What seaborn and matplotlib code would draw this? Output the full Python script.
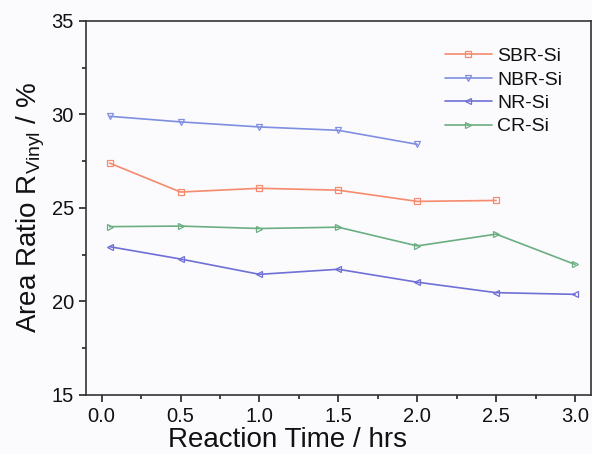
import pandas as pd
import matplotlib.pyplot as plt
import seaborn as sns
from matplotlib.ticker import MultipleLocator

# Dane
time_sbr = [0.05, 0.5, 1.0, 1.5, 2.0, 2.5]
sbr = [27.4, 25.85, 26.05, 25.95, 25.35, 25.4]
time_nbr = [0.05, 0.5, 1.0, 1.5, 2.0]
nbr = [29.9, 29.6, 29.33, 29.15, 28.4]
time_nr = [0.05, 0.5, 1.0, 1.5, 2.0, 2.5, 3.0]
nr = [22.93, 22.27, 21.45, 21.72, 21.03, 20.47, 20.38]
time_cr = [0.05, 0.5, 1.0, 1.5, 2.0, 2.5, 3.0]
cr = [24.0, 24.03, 23.9, 23.97, 22.97, 23.6, 21.98]

series = [
    ('SBR-Si', time_sbr, sbr, '#f58a6e', 's'),
    ('NBR-Si', time_nbr, nbr, '#7f8ee0', 'v'),
    ('NR-Si', time_nr, nr, '#6f6fd6', '<'),
    ('CR-Si', time_cr, cr, '#6aae82', '>'),
]

sns.set_theme(style="ticks")
plt.rcParams['font.family'] = ['Liberation Sans', 'DejaVu Sans']
plt.rcParams['text.color'] = '#111111'
plt.rcParams['axes.labelcolor'] = '#111111'

fig = plt.figure(figsize=(5.92, 4.54), dpi=100)
fig.patch.set_facecolor('#fbfbfd')
ax = fig.add_axes([0.145, 0.13, 0.853, 0.824])
ax.set_facecolor('#fbfbfd')

for name, t, v, col, mk in series:
    df = pd.DataFrame({'t': t, 'v': v})
    sns.lineplot(data=df, x='t', y='v', ax=ax, color=col, marker=mk, markersize=5,
                 markerfacecolor='none', markeredgecolor=col, markeredgewidth=0.9,
                 linewidth=1.2, label=name)

ax.set_xlim(-0.1, 3.1)
ax.set_ylim(15, 35)
ax.xaxis.set_major_locator(MultipleLocator(0.5))
ax.xaxis.set_minor_locator(MultipleLocator(0.25))
ax.yaxis.set_major_locator(MultipleLocator(5))
ax.yaxis.set_minor_locator(MultipleLocator(2.5))
ax.set_xticks([0, 0.5, 1.0, 1.5, 2.0, 2.5, 3.0])
ax.set_xticklabels(['0.0', '0.5', '1.0', '1.5', '2.0', '2.5', '3.0'])
ax.tick_params(which='major', direction='out', length=5, width=1.2, labelsize=14.5,
               colors='#222222', labelcolor='#111111')
ax.tick_params(which='minor', direction='out', length=3, width=1.2, colors='#222222')
for s in ax.spines.values():
    s.set_linewidth(1.2)
    s.set_color('#333333')

ax.set_xlabel('Reaction Time / hrs', fontsize=20, labelpad=0)
ax.xaxis.set_label_coords(0.40, -0.085)
ax.set_ylabel(r'Area Ratio R$_{\mathregular{Vinyl}}$ / %', fontsize=20, labelpad=3)

leg = ax.legend(loc='upper left', frameon=False, fontsize=14, handlelength=2.4,
                handletextpad=0.3, labelspacing=0.3, borderpad=0, borderaxespad=0,
                bbox_to_anchor=(0.711, 0.929))

fig.savefig('out.png', dpi=100, facecolor=fig.get_facecolor())
